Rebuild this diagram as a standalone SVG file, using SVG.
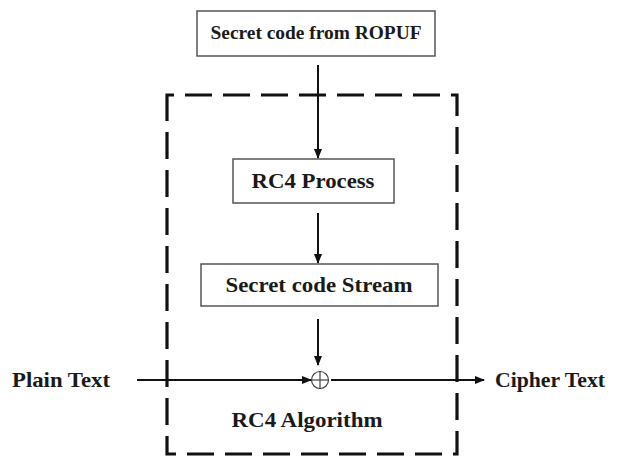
<svg xmlns="http://www.w3.org/2000/svg" width="617" height="457" viewBox="0 0 617 457">
<style>
.box{fill:#fff;stroke:#555;stroke-width:1.5}
.t{font-family:"Liberation Serif","Times New Roman",serif;font-weight:bold;fill:#1a1a1a}
.ln{stroke:#111;stroke-width:2;fill:none}
.dash{fill:none;stroke:#111;stroke-width:3.2;stroke-dasharray:27 11}
</style>
<defs>
<marker id="ah" markerWidth="10" markerHeight="10" refX="9" refY="5" orient="auto" markerUnits="userSpaceOnUse">
<path d="M0,1 L10,5 L0,9 Z" fill="#111"/>
</marker>
</defs>
<rect width="617" height="457" fill="#fff"/>
<g id="rc4-algorithm">
<path class="dash" d="M167,115 L167,95 L457,95 L457,454 L167,454 L167,115"/>
<text class="t" x="307" y="427" font-size="21" text-anchor="middle" textLength="151" lengthAdjust="spacingAndGlyphs">RC4 Algorithm</text>
</g>
<g id="connectors">
<line class="ln" x1="318" y1="65" x2="318" y2="158" marker-end="url(#ah)"/>
<line class="ln" x1="318" y1="213" x2="318" y2="263" marker-end="url(#ah)"/>
<line class="ln" x1="318" y1="319" x2="318" y2="365" marker-end="url(#ah)"/>
<line class="ln" x1="137" y1="380" x2="311" y2="380" marker-end="url(#ah)"/>
<line class="ln" x1="331" y1="380" x2="484" y2="380" marker-end="url(#ah)"/>
</g>
<g id="secret-ropuf">
<rect class="box" x="197" y="11" width="238" height="45"/>
<text class="t" x="316" y="38.5" font-size="19" text-anchor="middle" textLength="211" lengthAdjust="spacingAndGlyphs">Secret code from ROPUF</text>
</g>
<g id="rc4-process">
<rect class="box" x="233" y="159" width="161" height="44"/>
<text class="t" x="313" y="187.5" font-size="21" text-anchor="middle" textLength="123" lengthAdjust="spacingAndGlyphs">RC4 Process</text>
</g>
<g id="secret-stream">
<rect class="box" x="201" y="264" width="237" height="42"/>
<text class="t" x="319" y="291.5" font-size="21" text-anchor="middle" textLength="187" lengthAdjust="spacingAndGlyphs">Secret code Stream</text>
</g>
<g id="xor">
<circle cx="320" cy="380" r="8.5" fill="#fff" stroke="#444" stroke-width="1.2"/>
<line x1="311.5" y1="380" x2="328.5" y2="380" stroke="#444" stroke-width="1.2"/>
<line x1="320" y1="371.5" x2="320" y2="388.5" stroke="#444" stroke-width="1.2"/>
</g>
<g id="plain-text">
<text class="t" x="12" y="386.5" font-size="21" textLength="98" lengthAdjust="spacingAndGlyphs">Plain Text</text>
</g>
<g id="cipher-text">
<text class="t" x="495" y="387" font-size="21" textLength="110" lengthAdjust="spacingAndGlyphs">Cipher Text</text>
</g>
</svg>
